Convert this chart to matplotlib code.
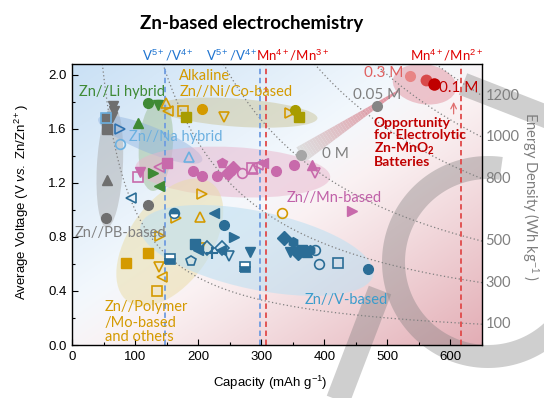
import numpy as np
import matplotlib
matplotlib.use('Agg')
import matplotlib.pyplot as plt
from matplotlib.patches import Ellipse, Polygon
from matplotlib.transforms import ScaledTranslation, IdentityTransform
from matplotlib.ticker import MultipleLocator

plt.rcParams['font.family'] = ['Liberation Sans', 'DejaVu Sans']
plt.rcParams['mathtext.fontset'] = 'custom'
plt.rcParams['mathtext.rm'] = 'Liberation Sans'
plt.rcParams['mathtext.it'] = 'Liberation Sans:italic'
plt.rcParams['mathtext.bf'] = 'Liberation Sans:bold'

# ---------------- data ----------------
# Zn//PB-based
pb_cap = [65, 66, 64, 55, 54, 55, 54, 121]
pb_volt = [1.77, 1.73, 1.69, 1.60, 1.68, 1.22, 0.94, 1.04]
pb_mark = ['v', 'v', 'v', 's', 's', '^', 'o', 'o']
pb_fill = ['full'] * 8

# Zn//Li hybrid
li_cap = [121, 137, 104, 129, 138]
li_volt = [1.79, 1.78, 1.64, 1.27, 1.18]
li_mark = ['o', 'v', '^', '>', '<']
li_fill = ['full'] * 5

# Zn//Na hybrid
na_cap = [54, 76, 76, 186]
na_volt = [1.68, 1.60, 1.49, 1.39]
na_mark = ['s', '>', 'o', '^']
na_fill = ['none'] * 4

# Alkaline Zn//Ni/Co-based
al_cap = [149, 152, 176, 181, 206, 241, 345, 353, 360]
al_volt = [1.79, 1.73, 1.73, 1.69, 1.75, 1.69, 1.72, 1.74, 1.69]
al_mark = ['^', '<', 's', 's', 'o', 'v', '>', 'o', 's']
al_fill = ['none', 'none', 'none', 'full', 'full', 'none', 'none', 'full', 'full']
al_kind = ['Ni', 'Ni', 'Ni', 'Co', 'Ni', 'Ni', 'Ni', 'Co', 'Co']

# Zn//Mn-based
mn_cap = [108, 105, 138, 150, 192, 206, 230, 238, 247, 255, 269, 285, 287, 295, 303, 323, 352, 380, 385, 444]
mn_volt = [1.28, 1.24, 1.32, 1.35, 1.29, 1.25, 1.25, 1.35, 1.27, 1.31, 1.27, 1.31, 1.30, 1.33, 1.35, 1.29, 1.33, 1.33, 1.27, 0.99]
mn_mark = ['v', 's', '<', 's', 'o', 'o', 'o', 'p', 'D', 'D', 'o', 's', '^', '<', '<', 'o', 'o', '^', 'v', '>']
mn_fill = ['full', 'none', 'none', 'full', 'full', 'full', 'full', 'full', 'full', 'full', 'none', 'none',
           'none', 'none', 'full', 'full', 'full', 'full', 'none', 'full']

# Zn//Polymer/Mo-based and others
po_cap = [206, 203, 165, 139, 120, 85, 138, 142, 134, 203, 333]
po_volt = [1.12, 0.95, 0.94, 0.81, 0.68, 0.61, 0.58, 0.50, 0.40, 0.72, 0.98]
po_mark = ['>', '^', '>', '>', 's', 's', 'v', '<', 's', 'v', 'o']
po_fill = ['none', 'none', 'none', 'none', 'full', 'full', 'none', 'none', 'none', 'none', 'none']

# Zn//V-based
v_cap = [94, 162, 225, 241, 257, 195, 200, 214, 222, 238, 236, 249, 282, 155, 189, 274, 336, 350,
         345, 352, 358, 365, 372, 378, 385, 391, 422, 469]
v_volt = [1.09, 0.98, 0.98, 0.89, 0.80, 0.75, 0.70, 0.72, 0.68, 0.72, 0.70, 0.66, 0.69, 0.64, 0.62, 0.58,
          0.79, 0.76, 0.69, 0.70, 0.68, 0.70, 0.69, 0.70, 0.70, 0.60, 0.61, 0.56]
v_mark = ['<', 'o', '<', 'o', '>', 's', '<', 'D', '+', 'D', '<', 'v', 'v', 's', 'p', 's', 'D', 'h',
          'v', '<', 'D', 's', '^', 'h', 'o', 'o', 's', 'o']
v_fill = ['none', 'top', 'full', 'full', 'full', 'full', 'full', 'none', 'full', 'none', 'full', 'none',
          'full', 'bottom', 'none', 'bottom', 'full', 'full', 'full', 'full', 'full', 'full', 'full', 'full',
          'none', 'none', 'none', 'full']

# Electrolytic Zn-MnO2 (MnSO4 concentration)
el_cap = [363, 483, 536, 561, 574]
el_volt = [1.41, 1.77, 1.99, 1.96, 1.93]
el_conc = ['0 M', '0.05 M', '0.3 M', '', '0.1 M']

# theoretical capacities
redox_cap = [147, 298, 308, 616]
redox_label = ['V$^{5+}$/V$^{4+}$', 'V$^{5+}$/V$^{4+}$', 'Mn$^{4+}$/Mn$^{3+}$', 'Mn$^{4+}$/Mn$^{2+}$']

# iso-energy lines (Wh/kg)
energy_levels = [100, 300, 500, 800, 1000, 1200]

# ---------------- colors ----------------
C_PB = '#6f6f6f'
C_LI = '#3f8a35'
C_NA = '#6cb0e0'
C_NA2 = '#2f72b0'
C_GOLD = '#d49a00'
C_OLIVE = '#a89c00'
C_MN = '#c86aab'
C_V = '#2b6d96'
C_BLUE = '#1f74d0'
C_RED = '#e00000'
C_DRED = '#c00000'
C_GRAY = '#7f7f7f'
TXT = ['Lato', 'DejaVu Sans']

fig = plt.figure(figsize=(5.44, 3.98), dpi=100)
bg = fig.add_axes([0, 0, 1, 1])
bg.set_xlim(0, 544)
bg.set_ylim(398, 0)
bg.axis('off')
bg.set_zorder(0)

L, R, T, B = 72, 482, 64, 345
# gradient background
W, H = 200, 140
u = np.linspace(0, 1, W)[None, :]
vd = np.linspace(0, 1, H)[:, None]
t = (u + vd) / 2
wb = np.clip((0.55 - t) / 0.55, 0, 1) ** 1.0
wp = np.clip((t - 0.42) / 0.58, 0, 1) ** 1.2
blue = np.array([0.79, 0.88, 0.96])
pink = np.array([0.89, 0.68, 0.71])
img = (1 - wb - wp)[..., None] * 1.0 + wb[..., None] * blue + wp[..., None] * pink
bg.imshow(img, extent=(L, R, B, T), aspect='auto', zorder=0, interpolation='bilinear')

# watermark shapes
wm = dict(facecolor='#7a7a7a', edgecolor='none', alpha=0.36, zorder=1)
cx, cy, rin, rout = 488, 262, 83, 106
ph = np.radians(np.linspace(82, 320, 120))
xo = cx + rout * np.cos(ph); yo = cy - rout * np.sin(ph)
xi = cx + rin * np.cos(ph[::-1]); yi = cy - rin * np.sin(ph[::-1])
bg.add_patch(Polygon(np.column_stack([np.r_[xo, xi], np.r_[yo, yi]]), **wm))


def band(p0, p1, w):
    p0 = np.array(p0, float); p1 = np.array(p1, float)
    d = p1 - p0; n = np.array([-d[1], d[0]]) / np.hypot(*d) * w / 2
    return Polygon([p0 + n, p1 + n, p1 - n, p0 - n], **wm)


bg.add_patch(band((338, 400), (380, 290), 24))
bg.add_patch(band((463, 84), (550, 118), 23))

# ---------------- main axes ----------------
ax = fig.add_axes([L / 544, 1 - B / 398, (R - L) / 544, (B - T) / 398])
ax.set_zorder(2)
ax.patch.set_alpha(0)
ax.set_xlim(0, 650)
ax.set_ylim(0, 2.08)


def blob(c, v, w, h, ang, color, alpha):
    ax.add_patch(Ellipse((0, 0), w, h, angle=ang, transform=ScaledTranslation(c, v, ax.transData),
                         facecolor=color, edgecolor='none', alpha=alpha, zorder=1))


blob(60, 1.32, 26, 122, -3, '#a8a8a8', 0.45)
blob(133, 1.48, 34, 92, -4, '#97b98a', 0.45)
blob(124, 1.52, 112, 26, -22, '#8fb3e0', 0.45)
blob(261, 1.72, 162, 28, -4, '#cbc59a', 0.5)
blob(255, 1.28, 195, 50, -3, '#e9b5cc', 0.5)
blob(155, 0.76, 145, 82, 55, '#eadca4', 0.5)
blob(293, 0.70, 238, 78, -12, '#bfe0f2', 0.6)
blob(559, 1.93, 64, 40, -8, '#e59aa6', 0.55)

# iso-energy curves
for E in energy_levels:
    c = np.linspace(E / 2.08, 650, 300)
    ax.plot(c, E / c, color='#808080', lw=0.9, ls=(0, (1, 2)), zorder=1.5)
    ax.text(1.008, E / 650, str(E), transform=ax.get_yaxis_transform(), ha='left', va='center',
            color=C_GRAY, fontsize=10.5, family=TXT, clip_on=False)

# theoretical capacity lines
for c, col in zip(redox_cap, ['#6f9ce0', '#6f9ce0', '#e04a4a', '#e04a4a']):
    ax.axvline(c, color=col, lw=1.3, ls=(0, (3, 2)), zorder=2)


def draw(caps, volts, marks, fills, colors, ms=7):
    if isinstance(colors, str):
        colors = [colors] * len(caps)
    for c, v, m, f, col in zip(caps, volts, marks, fills, colors):
        if m == '+':
            ax.plot(c, v, m, ms=ms + 1, mec=col, mew=1.5, ls='none', zorder=3)
        elif f == 'none':
            ax.plot(c, v, m, ms=ms, mfc='none', mec=col, mew=1.2, ls='none', zorder=3)
        elif f == 'full':
            ax.plot(c, v, m, ms=ms, mfc=col, mec=col, mew=1.0, ls='none', zorder=3)
        else:
            ax.plot(c, v, m, ms=ms, fillstyle=f, mfc=col, mfcalt='white', mec=col, mew=1.2,
                    ls='none', zorder=3)


draw(pb_cap, pb_volt, pb_mark, pb_fill, C_PB)
draw(li_cap, li_volt, li_mark, li_fill, C_LI)
draw(na_cap, na_volt, na_mark, na_fill, [C_NA, C_NA2, C_NA, C_NA])
draw(al_cap, al_volt, al_mark, al_fill, [C_GOLD if k == 'Ni' else C_OLIVE for k in al_kind])
draw(mn_cap, mn_volt, mn_mark, mn_fill, C_MN)
draw(po_cap, po_volt, po_mark, po_fill, C_GOLD)
draw(v_cap, v_volt, v_mark, v_fill, C_V)

# electrolytic arrow (gradient wedge)
p0 = ax.transData.transform((el_cap[0], el_volt[0]))
p1 = ax.transData.transform((517, 1.88))
d = p1 - p0
nrm = np.array([-d[1], d[0]]) / np.hypot(*d)
N = 40
g0 = np.array([0.86, 0.86, 0.86]); g1 = np.array([0.88, 0.50, 0.56])
for i in range(N):
    s0, s1 = i / N, (i + 1) / N
    w0 = 8.5 * (1 - s0) + 0.8 * s0
    w1 = 8.5 * (1 - s1) + 0.8 * s1
    a0 = p0 + d * s0; a1 = p0 + d * s1
    col = g0 * (1 - s0) + g1 * s0
    ax.add_patch(Polygon([a0 + nrm * w0, a1 + nrm * w1, a1 - nrm * w1, a0 - nrm * w0],
                         transform=IdentityTransform(), facecolor=col, edgecolor='none',
                         alpha=0.9, zorder=2.5))

el_colors = ['#a6a6a6', '#858585', '#e88585', '#d84a4a', '#c00000']
el_size = [8, 8, 8, 8.5, 9]
for c, v, col, s in zip(el_cap, el_volt, el_colors, el_size):
    ax.plot(c, v, 'o', ms=s, mfc=col, mec='none', zorder=3.5)

ax.annotate('', xy=(605, 1.82), xytext=(605, 1.69),
            arrowprops=dict(arrowstyle='->', color='#e07070', lw=0.9), zorder=4)

# labels inside axes
ax.text(el_cap[0] + 33, el_volt[0] + 0.005, el_conc[0], color=C_GRAY, fontsize=11, family=TXT, va='center')
ax.text(el_cap[1] - 38, el_volt[1] + 0.08, el_conc[1], color=C_GRAY, fontsize=11, family=TXT, va='center')
ax.text(el_cap[2] - 73, el_volt[2] + 0.02, el_conc[2], color='#e06060', fontsize=11, family=TXT, va='center')
ax.text(el_cap[4] + 8, el_volt[4] - 0.03, el_conc[4], color=C_DRED, fontsize=11, family=TXT, va='center')

ax.text(478, 1.685, 'Opportunity\nfor Electrolytic\nZn-MnO$_\\mathbf{2}$\nBatteries', color=C_DRED,
        fontsize=10, fontweight='bold', family=TXT, va='top', ha='left', linespacing=0.95, zorder=4)

ax.text(11, 1.87, 'Zn//Li hybrid', color=C_LI, fontsize=10.5, family=TXT, va='center')
ax.text(170, 1.99, 'Alkaline', color=C_GOLD, fontsize=10.5, family=TXT, va='center')
ax.text(170, 1.87, 'Zn//Ni/Co-based', color=C_GOLD, fontsize=10.5, family=TXT, va='center')
ax.text(90, 1.54, 'Zn//Na hybrid', color=C_NA, fontsize=10.5, family=TXT, va='center')
ax.text(5, 0.83, 'Zn//PB-based', color='#808080', fontsize=10.5, family=TXT, va='center')
ax.text(341, 1.09, 'Zn//Mn-based', color='#c060a8', fontsize=10.5, family=TXT, va='center')
ax.text(52, 0.28, 'Zn//Polymer', color=C_GOLD, fontsize=10.5, family=TXT, va='center')
ax.text(52, 0.165, '/Mo-based', color=C_GOLD, fontsize=10.5, family=TXT, va='center')
ax.text(52, 0.06, 'and others', color=C_GOLD, fontsize=10.5, family=TXT, va='center')
ax.text(369, 0.33, 'Zn//V-based', color='#3a9ccc', fontsize=10.5, family=TXT, va='center')

# axes styling
ax.xaxis.set_major_locator(MultipleLocator(100))
ax.xaxis.set_minor_locator(MultipleLocator(50))
ax.yaxis.set_major_locator(MultipleLocator(0.4))
ax.yaxis.set_minor_locator(MultipleLocator(0.2))
ax.yaxis.set_major_formatter(matplotlib.ticker.FormatStrFormatter('%.1f'))
ax.tick_params(which='both', direction='in', top=False, right=False, labelsize=9.5, width=0.8)
ax.tick_params(which='major', length=4, pad=4)
ax.tick_params(which='minor', length=2.5)
for sp in ax.spines.values():
    sp.set_linewidth(1.0)

# outside texts
bg.text(252, 24, 'Zn-based electrochemistry', ha='center', va='center', fontsize=13.5,
        fontweight='bold', family=TXT, color='black')
for x, lab, col in zip([168, 232, 293, 447], redox_label, [C_BLUE, C_BLUE, C_RED, C_RED]):
    bg.text(x, 55, lab, ha='center', va='center', fontsize=9.5, family=TXT, color=col)
bg.text(270, 383, 'Capacity (mAh g$^{-1}$)', ha='center', va='center', fontsize=9.5)
bg.text(22, 202, 'Average Voltage (V $\\mathit{vs.}$ Zn/Zn$^{2+}$)', ha='center', va='center',
        fontsize=9.5, rotation=90)
bg.text(530, 197, 'Energy Density (Wh kg$^{-1}$ )', ha='center', va='center', fontsize=10.5,
        family=TXT, color=C_GRAY, rotation=270)

fig.savefig('out.png', dpi=100)
